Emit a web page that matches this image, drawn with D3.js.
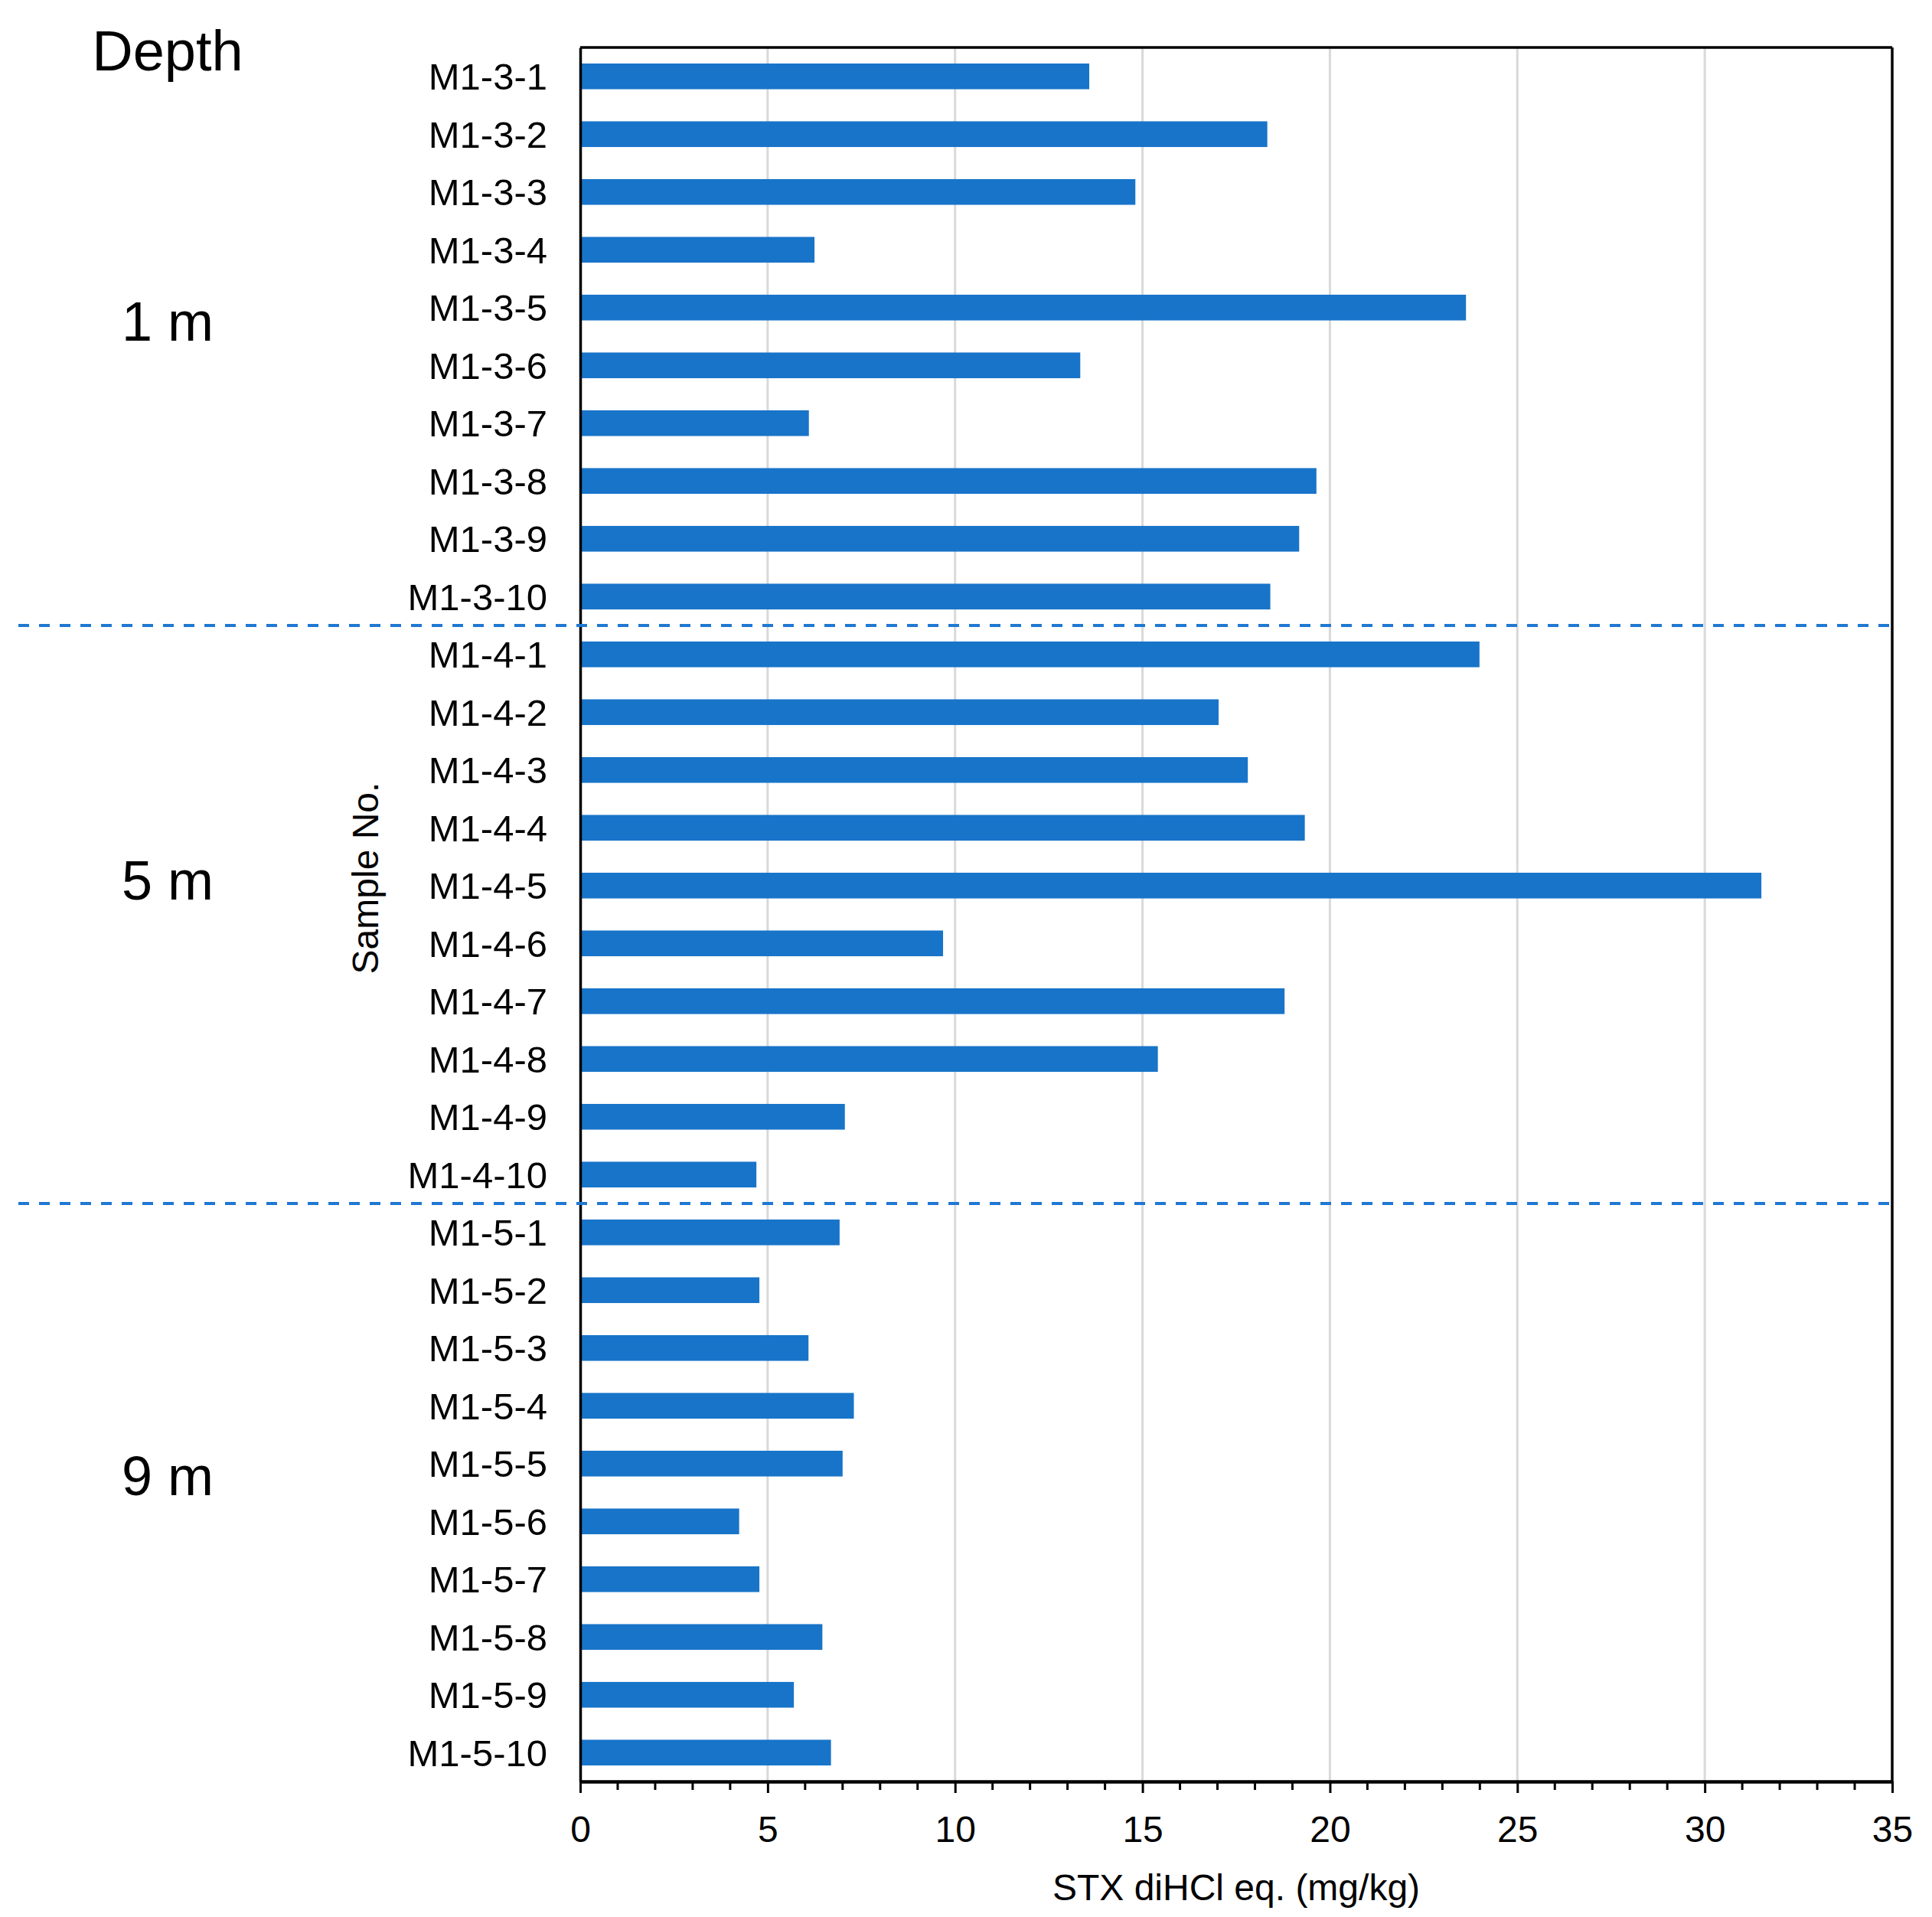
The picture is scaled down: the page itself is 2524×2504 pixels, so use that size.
<!DOCTYPE html>
<html>
<head>
<meta charset="utf-8">
<script src="https://cdn.jsdelivr.net/npm/d3@7"></script>
<style>
  html, body { margin: 0; padding: 0; background: #fff; }
  svg { display: block; }
  text { font-family: "Liberation Sans", Arial, sans-serif; fill: #000; }
</style>
</head>
<body>
<svg id="chart" width="2524" height="2504"></svg>
<script>
// ---------------- data ----------------
const categories = [
  "M1-3-1","M1-3-2","M1-3-3","M1-3-4","M1-3-5","M1-3-6","M1-3-7","M1-3-8","M1-3-9","M1-3-10",
  "M1-4-1","M1-4-2","M1-4-3","M1-4-4","M1-4-5","M1-4-6","M1-4-7","M1-4-8","M1-4-9","M1-4-10",
  "M1-5-1","M1-5-2","M1-5-3","M1-5-4","M1-5-5","M1-5-6","M1-5-7","M1-5-8","M1-5-9","M1-5-10"
];
const values = [
  13.58, 18.33, 14.81, 6.25, 23.63, 13.34, 6.10, 19.64, 19.18, 18.41,
  23.99, 17.03, 17.81, 19.33, 31.51, 9.68, 18.79, 15.41, 7.06, 4.70,
  6.92, 4.78, 6.09, 7.30, 7.00, 4.24, 4.78, 6.46, 5.70, 6.69
];
const xTicks = [0, 5, 10, 15, 20, 25, 30, 35];
const xMinorTicks = d3.range(0, 36, 1);
const depthLabels = ["1 m", "5 m", "9 m"];
const depthAnchor = [4.73, 14.4, 24.7];      // position along the category axis (band units)
const separatorsAfter = ["M1-3-10", "M1-4-10"]; // dashed separators below these samples
const xTitle = "STX diHCl eq. (mg/kg)";
const yTitle = "Sample No.";
const headerText = "Depth";

// ---------------- layout ----------------
const svg = d3.select("#chart");
const W = 2524, H = 2504;
const margin = { top: 62, right: 52, bottom: 177, left: 758 };
const iw = W - margin.left - margin.right;
const ih = H - margin.top - margin.bottom;
const barColor = "#1874c9";
const dashColor = "#1f78d3";
const gridColor = "#d9d9d9";

const x = d3.scaleLinear().domain([0, 35]).range([0, iw]);
const y = d3.scaleBand().domain(categories).range([0, ih]).paddingInner(0.555).paddingOuter(0.2775);

const g = svg.append("g").attr("transform", `translate(${margin.left},${margin.top})`);

// gridlines
g.append("g").selectAll("line")
  .data(xTicks.filter(d => d > 0 && d < 35))
  .join("line")
  .attr("x1", d => x(d)).attr("x2", d => x(d))
  .attr("y1", 0).attr("y2", ih)
  .attr("stroke", gridColor).attr("stroke-width", 3);

// bars
g.append("g").selectAll("rect")
  .data(categories.map((c, i) => ({ c, v: values[i] })))
  .join("rect")
  .attr("x", x(0))
  .attr("y", d => y(d.c))
  .attr("width", d => x(d.v) - x(0))
  .attr("height", y.bandwidth())
  .attr("fill", barColor);

// frame (top, right)
g.append("line").attr("x1", 0).attr("x2", iw).attr("y1", 0).attr("y2", 0)
  .attr("stroke", "#000").attr("stroke-width", 3.5);
g.append("line").attr("x1", iw).attr("x2", iw).attr("y1", 0).attr("y2", ih)
  .attr("stroke", "#000").attr("stroke-width", 3.5);

// y axis
const yAxis = g.append("g").call(d3.axisLeft(y).tickSize(0).tickPadding(43));
yAxis.select(".domain").attr("stroke", "#000").attr("stroke-width", 3.5);
yAxis.selectAll("text")
  .attr("font-size", 49)
  .attr("font-family", "'Liberation Sans', Arial, sans-serif")
  .attr("dy", "0.36em")
  .attr("fill", "#000");

// x axis minor ticks
g.append("g").attr("transform", `translate(0,${ih})`)
  .selectAll("line")
  .data(xMinorTicks.filter(d => d % 5 !== 0))
  .join("line")
  .attr("x1", d => x(d)).attr("x2", d => x(d))
  .attr("y1", 0).attr("y2", 11)
  .attr("stroke", "#000").attr("stroke-width", 3);

// x axis
const xAxis = g.append("g").attr("transform", `translate(0,${ih})`)
  .call(d3.axisBottom(x).tickValues(xTicks).tickSize(15).tickPadding(30).tickSizeOuter(0));
xAxis.select(".domain").attr("stroke", "#000").attr("stroke-width", 4.5);
xAxis.selectAll(".tick line").attr("stroke", "#000").attr("stroke-width", 3);
xAxis.selectAll("text")
  .attr("font-size", 48)
  .attr("font-family", "'Liberation Sans', Arial, sans-serif")
  .attr("fill", "#000");

// dashed separators (span from the far left to the right edge of the plot)
g.append("g").selectAll("line")
  .data(separatorsAfter)
  .join("line")
  .attr("x1", -margin.left + 24).attr("x2", iw)
  .attr("y1", d => y(d) + y.step() * (1 - 0.2775) )
  .attr("y2", d => y(d) + y.step() * (1 - 0.2775) )
  .attr("stroke", dashColor).attr("stroke-width", 4)
  .attr("stroke-dasharray", "14 13");

// x title
g.append("text")
  .attr("x", iw / 2).attr("y", ih + 155)
  .attr("text-anchor", "middle")
  .attr("font-size", 48)
  .text(xTitle);

// y title
g.append("text")
  .attr("transform", `translate(${494 - margin.left},${1147 - margin.top}) rotate(-90)`)
  .attr("text-anchor", "middle")
  .attr("font-size", 48)
  .text(yTitle);

// depth header and depth labels
const depthX = 219 - margin.left;
g.append("text")
  .attr("x", depthX).attr("y", 92 - margin.top)
  .attr("text-anchor", "middle")
  .attr("font-size", 74)
  .text(headerText);

g.append("g").selectAll("text")
  .data(depthLabels.map((t, i) => ({ t, a: depthAnchor[i] })))
  .join("text")
  .attr("x", depthX)
  .attr("y", d => d.a * y.step())
  .attr("dy", "0.36em")
  .attr("text-anchor", "middle")
  .attr("font-size", 72)
  .text(d => d.t);
</script>
</body>
</html>
